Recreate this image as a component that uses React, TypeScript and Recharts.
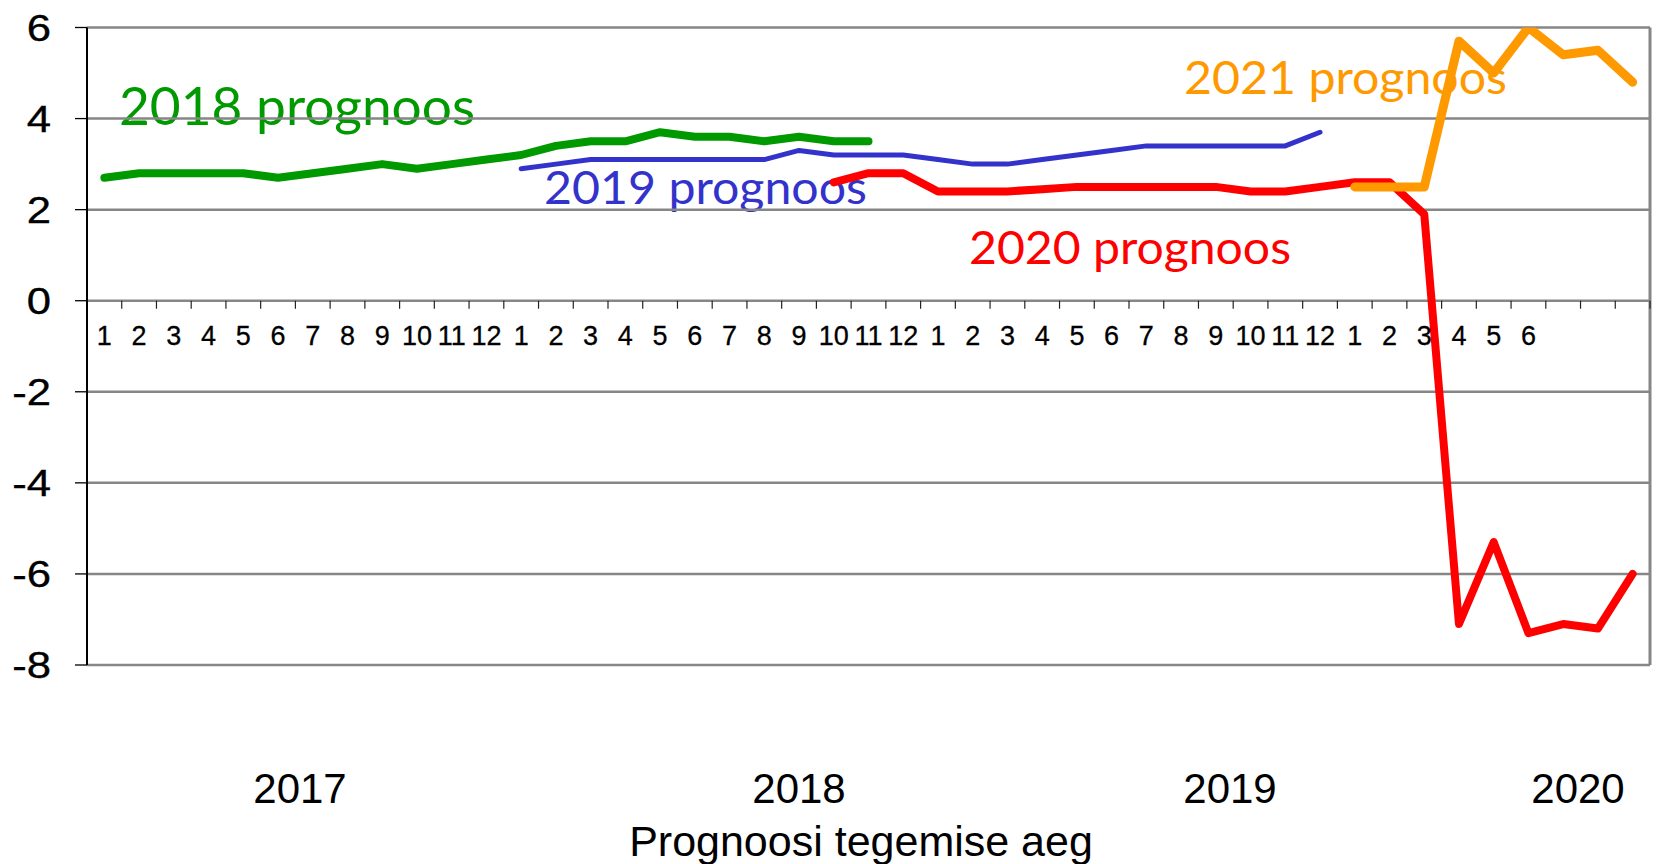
import React from 'react';
import { LineChart, Line, XAxis, YAxis, CartesianGrid, ReferenceLine } from 'recharts';

// ---------- data ----------
const monthLabels: string[] = [
  '1', '2', '3', '4', '5', '6', '7', '8', '9', '10', '11', '12',
  '1', '2', '3', '4', '5', '6', '7', '8', '9', '10', '11', '12',
  '1', '2', '3', '4', '5', '6', '7', '8', '9', '10', '11', '12',
  '1', '2', '3', '4', '5', '6', '', '', '',
];
const yearLabels: string[] = ['2017', '2018', '2019', '2020'];
const yTicks: number[] = [-8, -6, -4, -2, 0, 2, 4, 6];

// 2018 forecast: from 2017-1 (index 0)
const start2018 = 0;
const forecast2018: number[] = [
  2.7, 2.8, 2.8, 2.8, 2.8, 2.7, 2.8, 2.9, 3.0, 2.9, 3.0, 3.1,
  3.2, 3.4, 3.5, 3.5, 3.7, 3.6, 3.6, 3.5, 3.6, 3.5, 3.5,
];
// 2019 forecast: from 2018-1 (index 12)
const start2019 = 12;
const forecast2019: number[] = [
  2.9, 3.0, 3.1, 3.1, 3.1, 3.1, 3.1, 3.1, 3.3, 3.2, 3.2, 3.2,
  3.1, 3.0, 3.0, 3.1, 3.2, 3.3, 3.4, 3.4, 3.4, 3.4, 3.4, 3.7,
];
// 2020 forecast: from 2018-10 (index 21)
const start2020 = 21;
const forecast2020: number[] = [
  2.6, 2.8, 2.8,
  2.4, 2.4, 2.4, 2.45, 2.5, 2.5, 2.5, 2.5, 2.5, 2.4, 2.4, 2.5,
  2.6, 2.6, 1.9, -7.1, -5.3, -7.3, -7.1, -7.2, -6.0,
];
// 2021 forecast: from 2020-1 (index 36)
const start2021 = 36;
const forecast2021: number[] = [2.5, 2.5, 2.5, 5.7, 5.0, 6.0, 5.4, 5.5, 4.8];

const pick = (arr: number[], start: number, i: number) =>
  i >= start && i < start + arr.length ? arr[i - start] : null;

const data = monthLabels.map((m, i) => ({
  i,
  month: m,
  f2018: pick(forecast2018, start2018, i),
  f2019: pick(forecast2019, start2019, i),
  f2020: pick(forecast2020, start2020, i),
  f2021: pick(forecast2021, start2021, i),
}));

// ---------- layout ----------
const W = 1656;
const H = 864;
const PLOT_LEFT = 87;
const PLOT_TOP = 27.5;
const PLOT_RIGHT = 1650;
const PLOT_BOTTOM = 665;
const XAXIS_H = 20;
const Y_MIN = -8;
const Y_MAX = 6;
const ZERO_Y = PLOT_TOP + ((PLOT_BOTTOM - PLOT_TOP) * (Y_MAX - 0)) / (Y_MAX - Y_MIN);
const X_MIN = -0.5;
const X_MAX = monthLabels.length - 0.5;

const xTicks: number[] = [];
for (let k = 0; k < monthLabels.length; k++) {
  xTicks.push(k);
  xTicks.push(k + 0.5);
}

const AXIS_FONT = '"Liberation Sans", Arial, sans-serif';
const LABEL_FONT = 'Lato, "Noto Sans", sans-serif';

const MonthTick = (props: any) => {
  const { x, payload } = props;
  const v = payload.value as number;
  if (Number.isInteger(v)) {
    const lbl = monthLabels[v];
    if (!lbl) return <g />;
    return (
      <text
        x={x}
        y={ZERO_Y + 44}
        textAnchor="middle"
        fontSize={27}
        fontFamily={AXIS_FONT}
        fill="#000"
        stroke="#000"
        strokeWidth={0.3}
      >
        {lbl}
      </text>
    );
  }
  return <line x1={x} x2={x} y1={ZERO_Y} y2={ZERO_Y + 8} stroke="#222" strokeWidth={1.2} />;
};

const ValueTick = (props: any) => {
  const { x, y, payload } = props;
  return (
    <text
      x={x}
      y={y}
      dy="0.355em"
      textAnchor="end"
      fontSize={37}
      fontFamily={AXIS_FONT}
      fill="#000"
      stroke="#000"
      strokeWidth={0.35}
      transform={`translate(${x} 0) scale(1.18 1) translate(${-x} 0)`}
    >
      {payload.value}
    </text>
  );
};

const seriesLabels = [
  { text: '2018 prognoos', color: '#009900', x: 119, y: 125, size: 52, len: 356 },
  { text: '2019 prognoos', color: '#3333CC', x: 544, y: 204, size: 47, len: 323 },
  { text: '2020 prognoos', color: '#FF0000', x: 969, y: 264, size: 47, len: 322 },
  { text: '2021 prognoos', color: '#FF9900', x: 1184, y: 94, size: 47, len: 323 },
];
const yearLabelPos = [300, 799, 1230, 1578];

export default function App() {
  return (
    <div style={{ position: 'absolute', left: 0, top: 0, width: W, height: H, background: '#fff' }}>
      <svg width={W} height={H} style={{ position: 'absolute', left: 0, top: 0 }}>
        {seriesLabels.map((s) => (
          <text
            key={s.text}
            x={s.x}
            y={s.y}
            fontSize={s.size}
            fontFamily={LABEL_FONT}
            fill={s.color}
            textLength={s.len}
            lengthAdjust="spacingAndGlyphs"
          >
            {s.text}
          </text>
        ))}
        {yearLabels.map((yl, k) => (
          <text key={yl} x={yearLabelPos[k]} y={803} textAnchor="middle" fontSize={42} fontFamily={AXIS_FONT} fill="#000">
            {yl}
          </text>
        ))}
        <text x={861} y={856} textAnchor="middle" fontSize={43} fontFamily={AXIS_FONT} fill="#000">
          Prognoosi tegemise aeg
        </text>
      </svg>
      <div style={{ position: 'absolute', left: 0, top: 0 }}>
        <LineChart
          width={W}
          height={H}
          data={data}
          margin={{ top: PLOT_TOP, right: W - PLOT_RIGHT, left: 0, bottom: H - PLOT_BOTTOM - XAXIS_H }}
        >
          <CartesianGrid vertical={false} stroke="#868686" strokeWidth={2.5} />
          <XAxis
            type="number"
            dataKey="i"
            domain={[X_MIN, X_MAX]}
            ticks={xTicks}
            interval={0}
            axisLine={false}
            tickLine={false}
            tick={MonthTick}
            height={XAXIS_H}
          />
          <YAxis
            type="number"
            domain={[Y_MIN, Y_MAX]}
            ticks={yTicks}
            allowDataOverflow
            width={PLOT_LEFT}
            axisLine={{ stroke: '#000', strokeWidth: 2 }}
            tickLine={{ stroke: '#000', strokeWidth: 1.3 }}
            tickSize={12}
            tickMargin={24}
            tick={ValueTick}
            interval={0}
          />
          <ReferenceLine x={X_MAX} stroke="#868686" strokeWidth={3} />
          <Line dataKey="f2018" stroke="#009900" strokeWidth={8} dot={false} isAnimationActive={false} strokeLinecap="round" strokeLinejoin="round" connectNulls={false} />
          <Line dataKey="f2019" stroke="#3333CC" strokeWidth={5} dot={false} isAnimationActive={false} strokeLinecap="round" strokeLinejoin="round" connectNulls={false} />
          <Line dataKey="f2020" stroke="#FF0000" strokeWidth={8} dot={false} isAnimationActive={false} strokeLinecap="round" strokeLinejoin="round" connectNulls={false} />
          <Line dataKey="f2021" stroke="#FF9900" strokeWidth={9} dot={false} isAnimationActive={false} strokeLinecap="round" strokeLinejoin="round" connectNulls={false} />
        </LineChart>
      </div>
    </div>
  );
}
